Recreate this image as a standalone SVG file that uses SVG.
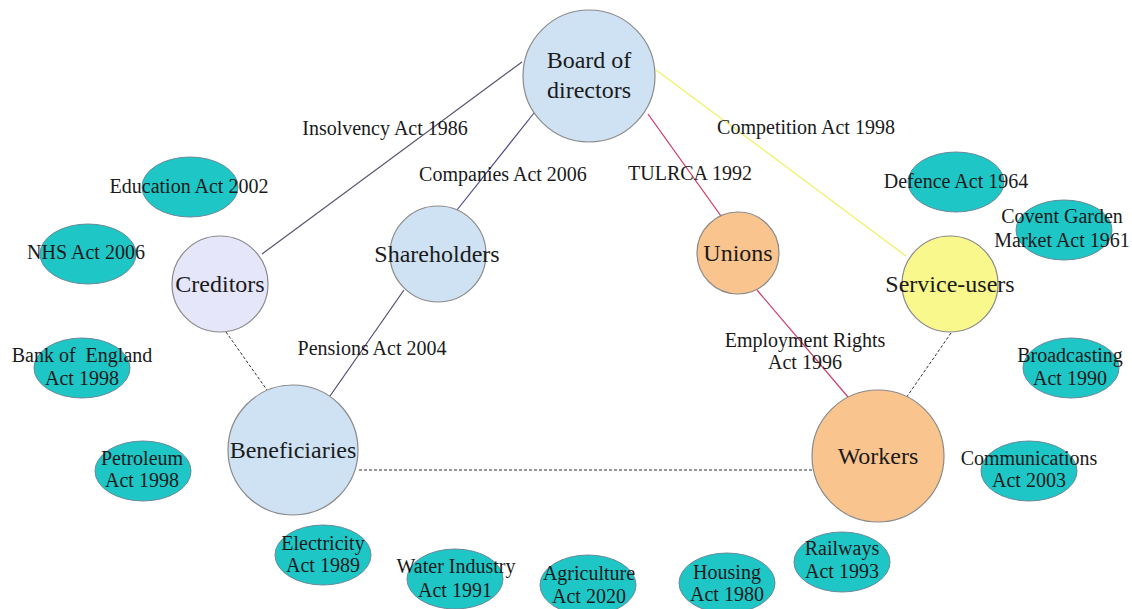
<svg xmlns="http://www.w3.org/2000/svg" width="1132" height="609" viewBox="0 0 1132 609" font-family="'Liberation Serif', 'DejaVu Serif', serif">
<style>
text{font-family:'Liberation Serif','DejaVu Serif',serif;fill:#1a1a1a;text-anchor:middle}
.main{font-size:24px}
.lbl{font-size:20px}
.act ellipse{fill:#1ec6c6;stroke:#6a8a9a;stroke-width:1}
.act text{font-size:20px}
.node circle{stroke:#8a8a8a;stroke-width:1.2}
.blue{fill:#cfe2f3}
.lav{fill:#e6e6fa}
.orange{fill:#fac48e}
.yellow{fill:#f8f88c}
.dash{stroke:#333;stroke-width:1;stroke-dasharray:3,2;fill:none}
</style>
<rect width="1132" height="609" fill="#fff"/>
<g id="connectors" fill="none">
<line x1="522" y1="62" x2="262" y2="254" stroke="#5a5470" stroke-width="1.2"/>
<line x1="534" y1="113" x2="457" y2="210" stroke="#4a4a8a" stroke-width="1.2"/>
<line x1="648" y1="114" x2="721" y2="216" stroke="#d0305a" stroke-width="1.2"/>
<line x1="656" y1="70" x2="906" y2="256" stroke="#f0f060" stroke-width="1.2"/>
<line x1="757" y1="290" x2="848" y2="397" stroke="#c8406a" stroke-width="1.2"/>
<line x1="404" y1="290" x2="330" y2="396" stroke="#504870" stroke-width="1.2"/>
<line x1="226" y1="332" x2="267" y2="390" class="dash"/>
<line x1="951" y1="333" x2="906" y2="398" class="dash"/>
<line x1="359" y1="470" x2="812" y2="470" class="dash"/>
<text class="lbl" x="385" y="135">Insolvency Act 1986</text>
<text class="lbl" x="503" y="181">Companies Act 2006</text>
<text class="lbl" x="690" y="180">TULRCA 1992</text>
<text class="lbl" x="806" y="134">Competition Act 1998</text>
<text class="lbl" x="372" y="355">Pensions Act 2004</text>
<text class="lbl" x="805" y="347">Employment Rights</text>
<text class="lbl" x="805" y="369">Act 1996</text>
</g>
<g id="board" class="node"><circle class="blue" cx="589" cy="76" r="66"/><text class="main" x="589" y="68">Board of</text><text class="main" x="589" y="98">directors</text></g>
<g id="creditors" class="node"><circle class="lav" cx="220" cy="284" r="48"/><text class="main" x="220" y="292">Creditors</text></g>
<g id="shareholders" class="node"><circle class="blue" cx="438" cy="254" r="48"/><text class="main" x="437" y="262">Shareholders</text></g>
<g id="unions" class="node"><circle class="orange" cx="738" cy="253" r="41"/><text class="main" x="738" y="261">Unions</text></g>
<g id="service-users" class="node"><circle class="yellow" cx="950" cy="284" r="48"/><text class="main" x="950" y="292">Service-users</text></g>
<g id="beneficiaries" class="node"><circle class="blue" cx="293" cy="450" r="65"/><text class="main" x="293" y="458">Beneficiaries</text></g>
<g id="workers" class="node"><circle class="orange" cx="878" cy="456" r="66"/><text class="main" x="878" y="464">Workers</text></g>
<g id="education" class="act"><ellipse cx="190" cy="187" rx="48" ry="30"/><text x="189" y="193">Education Act 2002</text></g>
<g id="nhs" class="act"><ellipse cx="88" cy="254" rx="48" ry="30"/><text x="86" y="259">NHS Act 2006</text></g>
<g id="bank" class="act"><ellipse cx="82" cy="368" rx="48" ry="30"/><text x="82" y="362" style="white-space:pre">Bank of  England</text><text x="82" y="385">Act 1998</text></g>
<g id="petroleum" class="act"><ellipse cx="143" cy="471" rx="48" ry="30"/><text x="142" y="465">Petroleum</text><text x="142" y="487">Act 1998</text></g>
<g id="electricity" class="act"><ellipse cx="323" cy="555" rx="48" ry="30"/><text x="323" y="550">Electricity</text><text x="323" y="572">Act 1989</text></g>
<g id="water" class="act"><ellipse cx="455" cy="579" rx="48" ry="30"/><text x="456" y="573">Water Industry</text><text x="455" y="597">Act 1991</text></g>
<g id="agriculture" class="act"><ellipse cx="588" cy="585" rx="48" ry="30"/><text x="589" y="580">Agriculture</text><text x="589" y="603">Act 2020</text></g>
<g id="housing" class="act"><ellipse cx="727" cy="583" rx="48" ry="30"/><text x="727" y="579">Housing</text><text x="727" y="601">Act 1980</text></g>
<g id="railways" class="act"><ellipse cx="842" cy="562" rx="48" ry="30"/><text x="842" y="555">Railways</text><text x="842" y="578">Act 1993</text></g>
<g id="defence" class="act"><ellipse cx="956" cy="182" rx="48" ry="30"/><text x="956" y="188">Defence Act 1964</text></g>
<g id="covent" class="act"><ellipse cx="1064" cy="230" rx="48" ry="30"/><text x="1062" y="223">Covent Garden</text><text x="1062" y="247">Market Act 1961</text></g>
<g id="broadcasting" class="act"><ellipse cx="1071" cy="368" rx="48" ry="30"/><text x="1070" y="362">Broadcasting</text><text x="1070" y="385">Act 1990</text></g>
<g id="communications" class="act"><ellipse cx="1029" cy="471" rx="48" ry="30"/><text x="1029" y="465">Communications</text><text x="1029" y="487">Act 2003</text></g>
</svg>
